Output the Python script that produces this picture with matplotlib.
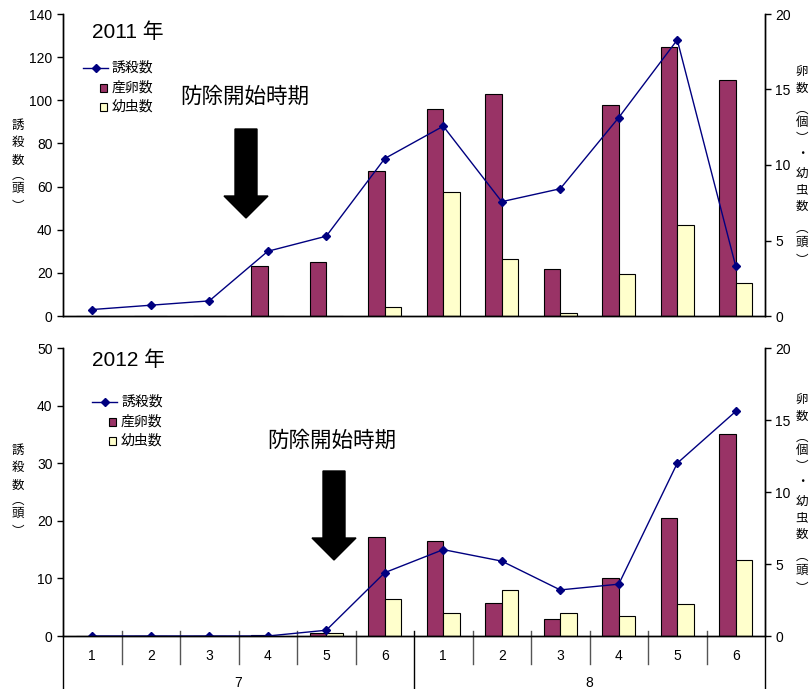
import numpy as np
import matplotlib.pyplot as plt
from matplotlib.patches import Polygon, Rectangle
from matplotlib.lines import Line2D
from matplotlib.transforms import blended_transform_factory

plt.rcParams['font.family'] = ['Liberation Sans', 'Noto Sans CJK JP', 'DejaVu Sans']

# half-month periods: July 1-6, August 1-6
periods = ['1', '2', '3', '4', '5', '6', '1', '2', '3', '4', '5', '6']
months = ['7', '8']

trap_2011 = [3, 5, 7, 30, 37, 73, 88, 53, 59, 92, 128, 23]
egg_2011 = [0, 0, 0, 3.3, 3.6, 9.6, 13.7, 14.7, 3.1, 14.0, 17.8, 15.6]
larva_2011 = [0, 0, 0, 0, 0, 0.6, 8.2, 3.8, 0.2, 2.8, 6.0, 2.2]

trap_2012 = [0, 0, 0, 0, 1, 11, 15, 13, 8, 9, 30, 39]
egg_2012 = [0, 0, 0, 0.1, 0.2, 6.85, 6.6, 2.3, 1.2, 4.0, 8.2, 14.05]
larva_2012 = [0, 0, 0, 0, 0.2, 2.55, 1.6, 3.2, 1.6, 1.4, 2.2, 5.25]

egg_color = '#993366'
larva_color = '#FFFFCC'
line_color = '#000080'

W, H = 810, 689
fig = plt.figure(figsize=(W / 100, H / 100), dpi=100)


def px_rect(x0, y0, x1, y1):
    # pixel box (top-left origin) -> figure fraction rect
    return [x0 / W, 1 - y1 / H, (x1 - x0) / W, (y1 - y0) / H]


def panel(rect, trap, egg, larva, ymax, ystep):
    x = np.arange(len(periods))
    bw = 0.285
    ax = fig.add_axes(rect)
    ax.bar(x - bw / 2, egg, bw, color=egg_color, edgecolor='black', linewidth=0.8)
    ax.bar(x + bw / 2, larva, bw, color=larva_color, edgecolor='black', linewidth=0.8)
    ax.set_ylim(0, 20)
    ax.set_yticks(range(0, 21, 5))
    ax.set_xlim(-0.5, len(periods) - 0.5)

    ax2 = ax.twinx()
    ax2.plot(x, trap, color=line_color, lw=1, marker='D', markersize=4)
    ax2.set_ylim(0, ymax)
    ax2.set_yticks(range(0, ymax + 1, ystep))
    # bars read on the right scale, trap counts on the left
    ax2.yaxis.tick_left()
    ax.yaxis.tick_right()

    for a in (ax, ax2):
        a.spines['top'].set_visible(False)
        for s in a.spines.values():
            s.set_linewidth(1)
        a.tick_params(axis='y', labelsize=10, length=4, width=1)
    return ax, ax2


top, top2 = panel(px_rect(63, 14, 765, 316), trap_2011, egg_2011, larva_2011, 140, 20)
top.set_xticks(np.arange(-0.5, len(periods)))
top.set_xticklabels([])
top.tick_params(axis='x', length=6, width=1, direction='out')
top2.set_xticks([])

bot, bot2 = panel(px_rect(63, 348, 765, 636), trap_2012, egg_2012, larva_2012, 50, 10)
bot.set_xticks([])
bot2.set_xticks([])

# two-level category axis under the 2012 panel
tr = blended_transform_factory(bot.transData, bot.transAxes)
for i, p in enumerate(periods):
    bot.text(i, -0.069, p, transform=tr, ha='center', va='center', fontsize=10)
for k, m in enumerate(months):
    bot.text(k * 6 + 2.5, -0.163, m, transform=tr, ha='center', va='center', fontsize=10)
for b in np.arange(0.5, len(periods) - 1):
    if b == 5.5:
        bot.plot([b, b], [0.017, -0.184], transform=tr, color='black', lw=1, clip_on=False)
    else:
        bot.plot([b, b], [0.017, -0.097], transform=tr, color='#555555', lw=1, clip_on=False)
for b in (-0.5, len(periods) - 0.5):
    bot.plot([b, b], [0, -0.184], transform=tr, color='black', lw=1, clip_on=False)

# overlay in pixel coordinates for titles, legends, arrows and axis labels
ov = fig.add_axes([0, 0, 1, 1])
ov.set_xlim(0, W)
ov.set_ylim(H, 0)
ov.axis('off')
ov.patch.set_visible(False)

cjk = ['Noto Sans CJK JP', 'DejaVu Sans']
left_chars = '誘殺数︵頭︶'
left_steps = [0, 17.5, 35, 50, 63, 82]
right_chars = '卵数︵個︶・幼虫数︵頭︶'
right_steps = [0, 17, 38, 51, 68, 83, 102, 119, 135, 157, 171, 190]


def vertical_label(x, y0, chars, steps):
    # stacked vertical text using the vertical bracket forms
    for ch, s in zip(chars, steps):
        ov.text(x, y0 + s, ch, fontsize=9, ha='center', va='center', family=cjk)


def decorate(dy, year, legend_x, legend_y, arrow_x, arrow_top, note_x, note_y):
    ov.text(92, 32 + dy, year, fontsize=15, ha='left', va='center')
    ov.text(note_x, note_y, '防除開始時期', fontsize=15.5, ha='left', va='center')
    # legend
    ov.add_line(Line2D([legend_x, legend_x + 25], [legend_y, legend_y], color=line_color, lw=1))
    ov.plot([legend_x + 12.5], [legend_y], marker='D', markersize=4, color=line_color)
    ov.text(legend_x + 29, legend_y, '誘殺数', fontsize=10, va='center')
    names = ['産卵数', '幼虫数']
    for j, (name, c) in enumerate(zip(names, [egg_color, larva_color])):
        yy = legend_y + 20 + 19 * j
        ov.add_patch(Rectangle((legend_x + 17, yy - 4), 7, 8, facecolor=c,
                               edgecolor='black', lw=0.8))
        ov.text(legend_x + 29, yy, name, fontsize=10, va='center')
    # arrow
    ax_, at = arrow_x, arrow_top
    pts = [(ax_ - 11, at), (ax_ + 11, at), (ax_ + 11, at + 67), (ax_ + 22, at + 67),
           (ax_, at + 89), (ax_ - 22, at + 67), (ax_ - 11, at + 67)]
    ov.add_patch(Polygon(pts, closed=True, facecolor='black', edgecolor='black'))


decorate(0, '2011 年', 83, 68, 246, 129, 180, 97)
decorate(328, '2012 年', 92, 402, 334, 471, 267, 441)

vertical_label(18, 125, left_chars, left_steps)
vertical_label(18, 450, left_chars, left_steps)
vertical_label(802, 71, right_chars, right_steps)
vertical_label(802, 399, right_chars, right_steps)

fig.savefig('out.png', dpi=100)
